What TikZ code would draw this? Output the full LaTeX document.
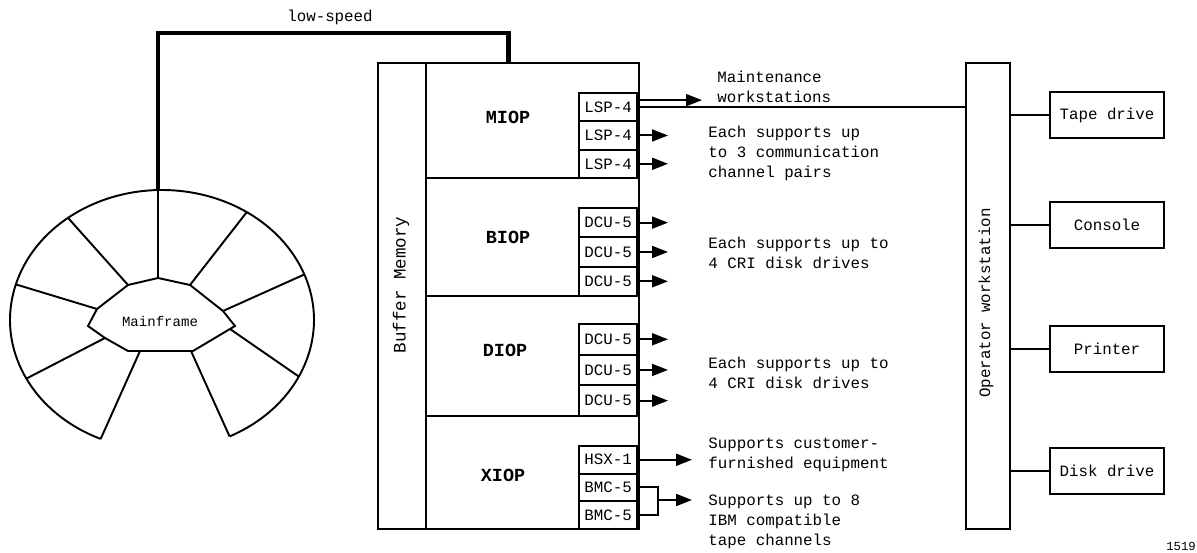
\documentclass[tikz,border=0pt]{standalone}
\usepackage{fontspec}
\setmainfont{Liberation Mono}
\usetikzlibrary{arrows.meta,calc}

\tikzset{
  wire/.style={line width=1.1pt},
  frame/.style={draw, line width=1.1pt, anchor=north west, inner sep=0pt},
  unit/.style={draw, line width=1.1pt, anchor=north east, minimum width=1.16cm,
               inner sep=0pt, font=\fontsize{9}{10}\selectfont},
  device/.style={draw, line width=1.1pt, minimum width=2.28cm, minimum height=0.92cm,
                 font=\fontsize{9}{11}\selectfont},
  note/.style={anchor=west, align=left, inner sep=0pt, font=\fontsize{9}{11.4}\selectfont},
  iopname/.style={font=\fontsize{10.5}{12}\selectfont\bfseries},
  outarrow/.style={line width=1.1pt, -{Triangle[length=3.2mm,width=2.4mm]}},
}

\begin{document}
\begin{tikzpicture}[x=0.02cm, y=-0.02cm]
  \useasboundingbox (0,0) rectangle (1197,553);

  % Mainframe wheel
  \coordinate (ctr) at (162,320);
  \draw[wire] ([shift={(-63.6:3.04cm and 2.6cm)}]ctr)
    arc[start angle=-63.6, end angle=246.2, x radius=3.04cm, y radius=2.6cm];
  \foreach \a/\x/\y in {91.5/158/278, 56.1/190/285, 20.5/223/311, -25.8/230/329,
                        -63.6/191/351, 246.2/140/351, 206.8/105/338, 164.1/97/309,
                        128.2/128/285}
    \draw[wire] ([shift={(\a:3.04cm and 2.6cm)}]ctr) -- (\x,\y);
  \draw[wire] (88,326) -- (97,309) -- (128,285) -- (158,278) -- (190,285) -- (223,311)
    -- (235,326) -- (193,351) -- (128,351) -- (105,338) -- cycle;
  \node[font=\fontsize{8}{9}\selectfont] (mf) at (160,321) {Mainframe};

  % I/O subsystem frame
  \node[frame, minimum width=5.22cm, minimum height=9.32cm] (ios) at (377,62) {};
  \node[frame, minimum width=0.96cm, minimum height=9.32cm] (mem) at (377,62) {};
  \node[rotate=90, font=\fontsize{10}{11}\selectfont] (memlbl) at (401,285) {Buffer Memory};

  % low-speed link
  \coordinate (mftop) at (158,190);
  \coordinate (bend) at (158,33);
  \draw[line width=2.8pt] (mftop) -- (bend) -| (ios.north);
  \node[font=\fontsize{9}{11}\selectfont] (lowspd) at (330,17) {low-speed};

  % IOPs
  \node[frame, minimum width=4.26cm, minimum height=2.3cm]  (miop) at (425,62)  {};
  \node[frame, minimum width=4.26cm, minimum height=2.36cm] (biop) at (425,177) {};
  \node[frame, minimum width=4.26cm, minimum height=2.4cm]  (diop) at (425,295) {};
  \node[frame, minimum width=4.26cm, minimum height=2.26cm] (xiop) at (425,415) {};
  \node[iopname] (miopname) at (508,117) {MIOP};
  \node[iopname] (biopname) at (508,237) {BIOP};
  \node[iopname] (diopname) at (505,350) {DIOP};
  \node[iopname] (xiopname) at (503,475) {XIOP};

  % channel units
  \foreach \i in {0,1,2} {
    \node[unit, minimum height=0.567cm] (lsp\i)  at (638,{92+28.33*\i})  {LSP-4};
    \node[unit, minimum height=0.587cm] (bdcu\i) at (638,{207+29.33*\i}) {DCU-5};
    \node[unit, minimum height=0.613cm] (ddcu\i) at (638,{323+30.67*\i}) {DCU-5};
  }
  \node[unit, minimum height=0.553cm] (hsx)  at (638,445)    {HSX-1};
  \node[unit, minimum height=0.553cm] (bmc0) at (638,472.67) {BMC-5};
  \node[unit, minimum height=0.553cm] (bmc1) at (638,500.33) {BMC-5};

  % Operator workstation and devices
  \node[frame, minimum width=0.88cm, minimum height=9.32cm] (opw) at (965,62) {};
  \node[rotate=90, font=\fontsize{9}{11}\selectfont] (opwlbl) at (986,303) {Operator workstation};
  \node[device] (tape)    at (1107,115) {Tape drive};
  \node[device] (console) at (1107,225) {Console};
  \node[device] (printer) at (1107,349) {Printer};
  \node[device] (disk)    at (1107,471) {Disk drive};
  \foreach \d in {tape,console,printer,disk}
    \draw[wire] (\d.west -| opw.east) -- (\d.west);

  % arrows out of the units
  \coordinate (tip) at (668,0);
  \coordinate (mtip) at (702,0);
  \coordinate (htip) at (692,0);
  \coordinate (brk) at (658,500);
  \foreach \n in {lsp1,lsp2,bdcu0,bdcu1,bdcu2,ddcu0,ddcu1,ddcu2}
    \draw[outarrow] (\n.east) -- (\n.east -| tip);
  \coordinate (lspup) at ([yshift=1.4mm]lsp0.east);
  \draw[outarrow] (lspup) -- (lspup -| mtip);
  \draw[wire] (lsp0.east) -- (lsp0.east -| opw.west);
  \draw[outarrow] (hsx.east) -- (hsx.east -| htip);
  \draw[wire] (bmc0.east) -| (brk) |- (bmc1.east);
  \draw[outarrow] (brk) -- (brk -| htip);

  % notes
  \node[note] (maint)    at (717,87)  {Maintenance\\workstations};
  \node[note] (miopnote) at (708,153) {Each supports up\\to 3 communication\\channel pairs};
  \node[note] (biopnote) at (708,253) {Each supports up to\\4 CRI disk drives};
  \node[note] (diopnote) at (708,373) {Each supports up to\\4 CRI disk drives};
  \node[note] (hsxnote)  at (708,455) {Supports customer-\\furnished equipment};
  \node[note] (bmcnote)  at (708,522) {Supports up to 8\\IBM compatible\\tape channels};

  \node[font=\fontsize{7}{8}\selectfont] (fignum) at (1181,546) {1519};
\end{tikzpicture}
\end{document}
